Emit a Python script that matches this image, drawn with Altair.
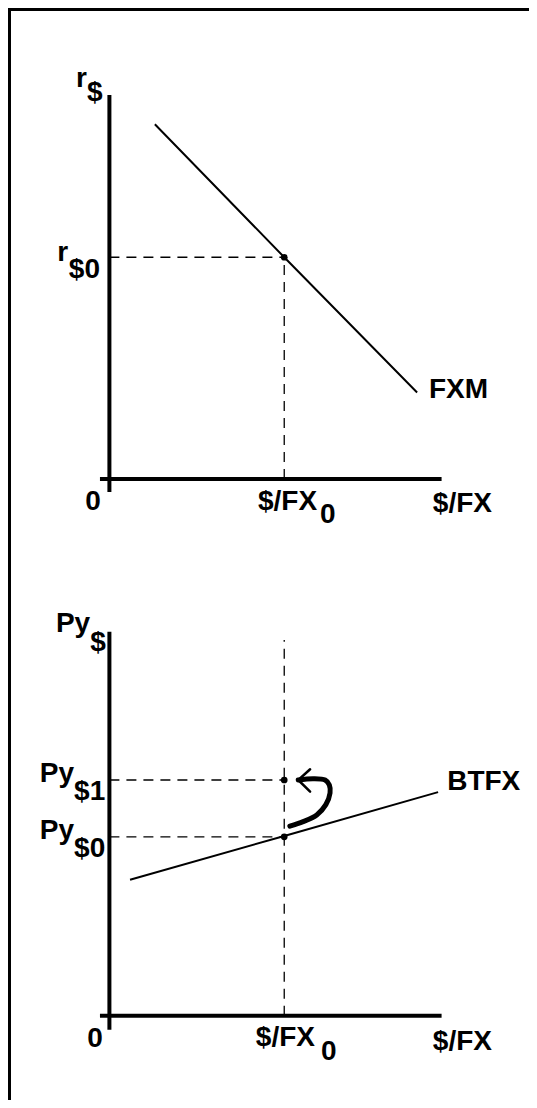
import altair as alt
import pandas as pd

# ---------------- data ----------------
# shared horizontal quantity ($/FX)
FX0 = 5.0
X_AXIS = [-0.27, 9.5]

# top panel: FX market (r$ against $/FX)
R0 = 5.0
FXM_X = [1.3, 5.0, 8.8]
FXM_Y = [8.0, 5.0, 1.95]
TOP_YAXIS = [-0.29, 8.66]

# bottom panel: BTFX (Py$ against $/FX)
PY0 = 4.0
PY1 = 5.27
BTFX_X = [0.59, 5.0, 9.40]
BTFX_Y = [3.04, 4.02, 5.0]
BOT_YAXIS = [-0.31, 8.58]
BOT_VDASH_TOP = 8.40
ARROW_X = [5.16, 5.54, 5.93, 6.19, 6.31, 6.29, 6.17, 5.83, 5.40]
ARROW_Y = [4.24, 4.34, 4.49, 4.72, 4.98, 5.16, 5.27, 5.30, 5.27]
HEAD_X = [5.74, 5.40, 5.74]
HEAD_Y = [5.51, 5.27, 5.01]

# labels: text, x, y, align
TOP_LABELS = [
    ("r", -0.64, 8.84, "right"),
    ("$", -0.64, 8.53, "left"),
    ("r", -1.18, 4.92, "right"),
    ("$0", -1.16, 4.54, "left"),
    ("0", -0.47, -0.70, "center"),
    ("$/FX", 5.94, -0.70, "right"),
    ("0", 6.02, -1.00, "left"),
    ("$/FX", 9.25, -0.74, "left"),
    ("FXM", 9.14, 1.83, "left"),
]
BOT_LABELS = [
    ("Py", -0.55, 8.58, "right"),
    ("$", -0.55, 8.15, "left"),
    ("Py", -1.01, 5.23, "right"),
    ("$1", -1.01, 4.83, "left"),
    ("Py", -1.01, 3.95, "right"),
    ("$0", -1.01, 3.55, "left"),
    ("0", -0.41, -0.69, "center"),
    ("$/FX", 5.88, -0.67, "right"),
    ("0", 6.05, -0.98, "left"),
    ("$/FX", 9.25, -0.76, "left"),
    ("BTFX", 9.66, 5.05, "left"),
]

# ---------------- layout ----------------
W = 521
H = 1092
XDOM = [-2.9, 12.0]
TOP_YDOM = [-14.0, 10.62]   # top diagram occupies the upper half of the view
BOT_YDOM = [-1.88, 22.52]   # bottom diagram occupies the lower half
FONT = "Liberation Sans"
FS = 28


def X(f):
    return alt.X(f"{f}:Q", scale=alt.Scale(domain=XDOM, nice=False, zero=False), axis=None)


def Y(f, dom):
    return alt.Y(f"{f}:Q", scale=alt.Scale(domain=dom, nice=False, zero=False), axis=None)


def rules(df, dom, **mk):
    return alt.Chart(df).mark_rule(**mk).encode(
        x=X("x"), x2="x2:Q", y=Y("y", dom), y2="y2:Q"
    )


def texts(labels, dom):
    df = pd.DataFrame(labels, columns=["t", "x", "y", "a"])
    out = []
    for a in ["left", "right", "center"]:
        sub = df[df["a"] == a]
        if len(sub) == 0:
            continue
        out.append(
            alt.Chart(sub).mark_text(
                align=a, baseline="alphabetic", font=FONT, fontSize=FS,
                fontWeight="bold", color="black"
            ).encode(x=X("x"), y=Y("y", dom), text="t:N")
        )
    return out


def diagram(dom, yaxis, hdash, vdash, curve_x, curve_y, dots, labels):
    axes = pd.DataFrame({
        "x": [0, X_AXIS[0]], "x2": [0, X_AXIS[1]],
        "y": [yaxis[0], 0], "y2": [yaxis[1], 0],
    })
    dash_rows = [{"x": 0, "x2": FX0, "y": yv, "y2": yv} for yv in hdash]
    dash_rows.append({"x": FX0, "x2": FX0, "y": 0, "y2": vdash})
    dashes = pd.DataFrame(dash_rows)
    curve = pd.DataFrame({"x": curve_x, "y": curve_y, "i": range(len(curve_x))})
    pts = pd.DataFrame({"x": [FX0] * len(dots), "y": dots})

    layers = [
        rules(dashes, dom, color="black", strokeWidth=1.3, strokeDash=[10, 7]),
        rules(axes, dom, color="black", strokeWidth=4),
        alt.Chart(curve).mark_line(color="black", strokeWidth=2).encode(
            x=X("x"), y=Y("y", dom), order="i:Q"),
        alt.Chart(pts).mark_circle(color="black", size=45, opacity=1).encode(
            x=X("x"), y=Y("y", dom)),
    ]
    layers += texts(labels, dom)
    return layers


layers = diagram(TOP_YDOM, TOP_YAXIS, [R0], R0, FXM_X, FXM_Y, [R0], TOP_LABELS)
layers += diagram(BOT_YDOM, BOT_YAXIS, [PY1, PY0], BOT_VDASH_TOP,
                  BTFX_X, BTFX_Y, [PY0, PY1], BOT_LABELS)

arrow = pd.DataFrame({"x": ARROW_X, "y": ARROW_Y, "i": range(len(ARROW_X))})
head = pd.DataFrame({"x": HEAD_X, "y": HEAD_Y, "i": range(len(HEAD_X))})
layers.append(alt.Chart(arrow).mark_line(
    color="black", strokeWidth=5, strokeCap="round", strokeJoin="round",
    interpolate="catmull-rom").encode(
    x=X("x"), y=Y("y", BOT_YDOM), order="i:Q"))
layers.append(alt.Chart(head).mark_line(
    color="black", strokeWidth=2.5, strokeCap="round").encode(
    x=X("x"), y=Y("y", BOT_YDOM), order="i:Q"))

# frame border: left and top edges
frame = pd.DataFrame({"k": [0]})
layers.append(alt.Chart(frame).mark_rule(color="black", strokeWidth=3).encode(
    x=alt.value(1.5), y=alt.value(0), y2=alt.value(H)))
layers.append(alt.Chart(frame).mark_rule(color="black", strokeWidth=3).encode(
    y=alt.value(1.5), x=alt.value(0), x2=alt.value(W)))

chart = alt.layer(*layers).resolve_scale(y="independent").properties(
    width=W, height=H, padding=0,
    autosize=alt.AutoSizeParams(type="none"),
).configure_view(strokeWidth=0)

chart.save("out.html", embed_options={"renderer": "svg", "actions": False})
